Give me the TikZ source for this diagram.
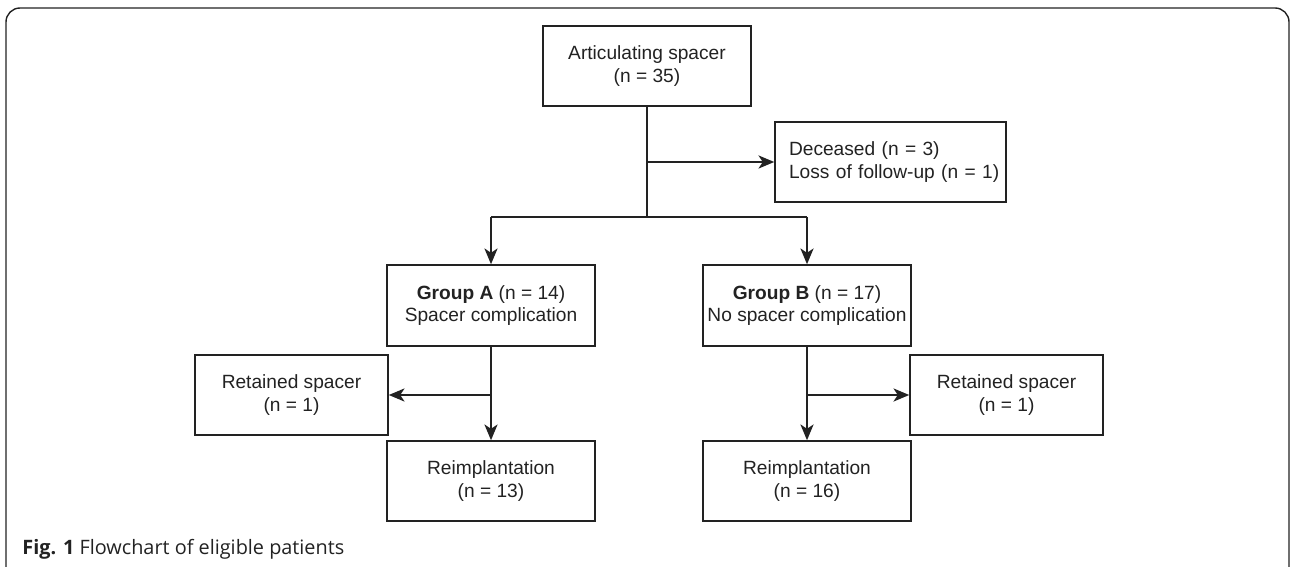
\documentclass[tikz,border=0pt]{standalone}
\usepackage{fontspec}
\setmainfont{Liberation Sans}
\newfontfamily\capfont{Open Sans}
\usetikzlibrary{arrows.meta}
\definecolor{ink}{HTML}{222222}
\begin{document}
\begin{tikzpicture}[x=0.02cm,y=-0.02cm,
  box/.style={draw=ink,line width=0.9pt,text=ink,align=center,inner sep=0pt,
    minimum width=4.16cm,minimum height=1.6cm,font=\fontsize{10.9}{12.6}\selectfont},
  smallbox/.style={box,minimum width=3.86cm},
  conn/.style={draw=ink,line width=0.9pt},
  arr/.style={conn,-{Stealth[length=9pt,width=7.5pt,inset=2.5pt]}}]
\useasboundingbox (0,0) rectangle (1290,567);
\begin{scope}
\clip (0,0) rectangle (1290,567);
\draw[ink,line width=0.8pt,rounded corners=0.28cm] (6,580) -- (6,8) -- (1289,8) -- (1289,580);
\end{scope}
\node[box] (top) at (647,66) {Articulating spacer\\(n = 35)};
\node[box,minimum width=4.62cm,text width=4.62cm,align=left] (dec) at (890.5,162) {\hspace*{0.28cm}Deceased (n = 3)\\\hspace*{0.28cm}Loss of follow-up (n = 1)};
\node[box,minimum height=1.62cm] (ga) at (491,305.5) {\textbf{Group A} (n = 14)\\Spacer complication};
\node[box,minimum height=1.62cm] (gb) at (807,305.5) {\textbf{Group B} (n = 17)\\No spacer complication};
\node[smallbox] (rl) at (291.5,395) {Retained spacer\\(n = 1)};
\node[smallbox] (rr) at (1006.5,395) {Retained spacer\\(n = 1)};
\node[box] (il) at (491,481) {Reimplantation\\(n = 13)};
\node[box] (ir) at (807,481) {Reimplantation\\(n = 16)};
\coordinate (j) at (647,217);
\coordinate (jl) at (491,217);
\coordinate (jr) at (807,217);
\draw[conn] (top.south) -- (j);
\draw[arr] (top.south |- dec.west) -- (dec.west);
\draw[conn] (jl) -- (jr);
\draw[arr] (jl) -- (ga.north);
\draw[arr] (jr) -- (gb.north);
\draw[arr] (ga.south) -- (il.north);
\draw[arr] (ga.south |- rl.east) -- (rl.east);
\draw[arr] (gb.south) -- (ir.north);
\draw[arr] (gb.south |- rr.west) -- (rr.west);
\node[anchor=base west,inner sep=0pt,text=ink,font=\capfont\fontsize{11.3}{13}\selectfont] (cap) at (22,554) {\textbf{Fig. 1} Flowchart of eligible patients};
\end{tikzpicture}
\end{document}
